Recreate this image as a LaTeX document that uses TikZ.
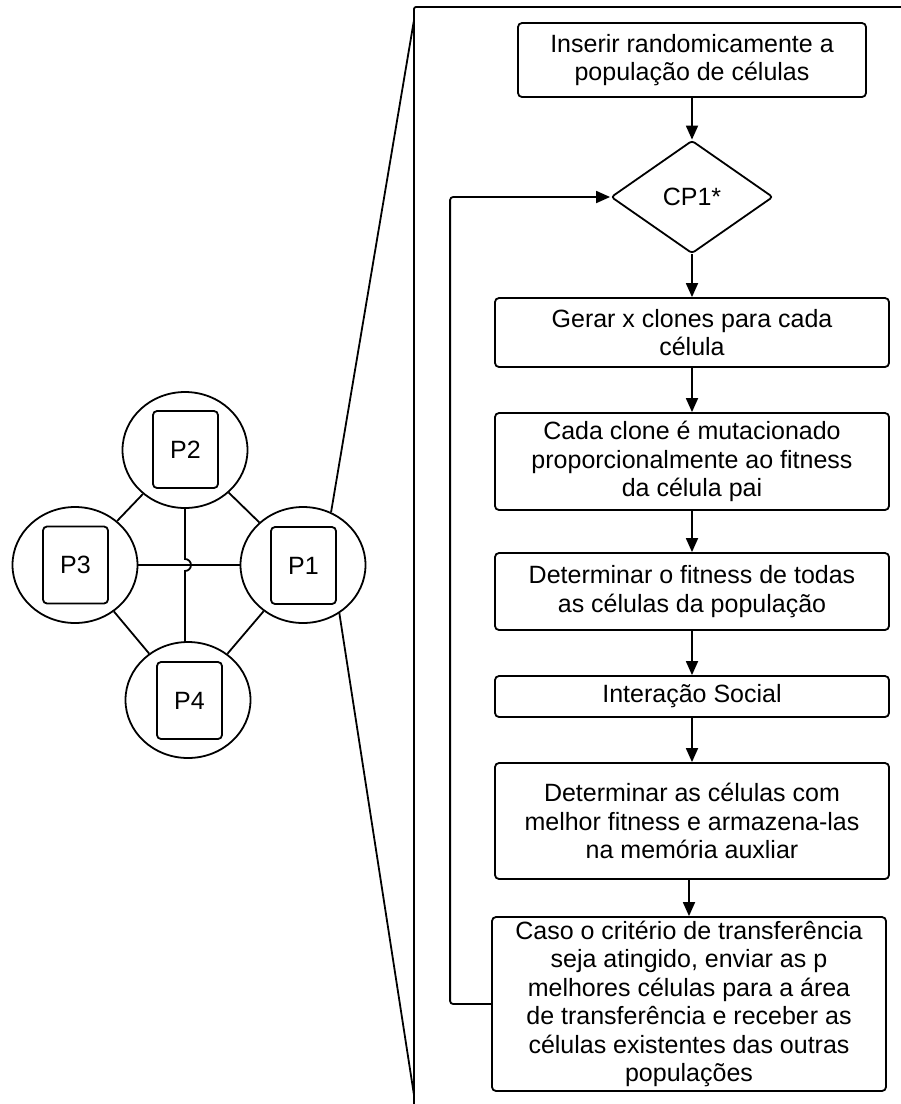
\documentclass[tikz,border=0pt]{standalone}
\usepackage{fontspec}
\setmainfont{Liberation Sans}
\usetikzlibrary{shapes.geometric,arrows.meta,calc}

\tikzset{
	pop/.style={shape=ellipse,draw,minimum width=125pt,minimum height=116pt,inner sep=0pt},
	popbox/.style={shape=rectangle,draw,rounded corners=4pt,minimum width=65pt,minimum height=77pt,inner sep=0pt},
	stepbox/.style={shape=rectangle,draw,rounded corners=4pt,align=center,minimum width=394pt,inner sep=0pt},
	decision/.style={shape=diamond,draw,rounded corners=3pt,minimum width=162pt,minimum height=113pt,aspect=1.43,inner sep=0pt},
	arr/.style={-{Triangle[length=14pt,width=12pt]}}
}

\begin{document}
\begin{tikzpicture}[x=1pt,y=-1pt,line width=1.8pt,font=\fontsize{25}{28.5}\selectfont]
	\useasboundingbox (0,0) rectangle (901,1104);

	% populations
	\node[pop] (p1) at (303,565) {};
	\node[pop] (p2) at (185,450) {};
	\node[pop] (p3) at (75,565) {};
	\node[pop] (p4) at (188,700) {};
	\node[popbox] (p1box) at (303.5,565.5) {P1};
	\node[popbox] (p2box) at (185.5,449.5) {P2};
	\node[popbox] (p3box) at (75.5,565) {P3};
	\node[popbox] (p4box) at (189.5,700.5) {P4};

	\path [-] (p2) edge (p3);
	\path [-] (p2) edge (p1);
	\path [-] (p3) edge (p4);
	\path [-] (p1) edge (p4);
	\path [-] (p3) edge (p1);
	\draw (p2.south) -- ($(p2.south |- p3.east)+(0,-6)$) arc[start angle=90,end angle=-90,radius=6pt] -- (p2.south |- p4.north);

	% zoom on P1
	\coordinate (zoomtop) at (414,20);
	\coordinate (zoombot) at (414,1095);
	\path [-] (p1.62) edge (zoomtop);
	\path [-] (p1.-53) edge (zoombot);
	\draw[rounded corners=2pt] (414,1104) -- (414,7) -- (901,7);

	% flowchart
	\node[stepbox,minimum width=348pt,minimum height=74pt] (insert) at (692,60) {Inserir randomicamente a\\população de células};
	\node[decision] (cp1) at (692,197) {CP1*};
	\node[stepbox,minimum height=69pt] (clones) at (692,332.5) {Gerar x clones para cada\\célula};
	\node[stepbox,minimum height=97pt] (mutate) at (692,461.5) {Cada clone é mutacionado\\proporcionalmente ao fitness\\da célula pai};
	\node[stepbox,minimum height=77pt] (fitness) at (692,591.5) {Determinar o fitness de todas\\as células da população};
	\node[stepbox,minimum height=41pt] (social) at (692,696.5) {Interação Social};
	\node[stepbox,minimum height=116pt] (best) at (692,821) {Determinar as células com\\melhor fitness e armazena-las\\na memória auxliar};
	\node[stepbox,minimum height=174pt] (transfer) at (689,1004) {Caso o critério de transferência\\seja atingido, enviar as p\\melhores células para a área\\de transferência e receber as\\células existentes das outras\\populações};

	\path [arr] (insert) edge (cp1);
	\path [arr] (cp1) edge (clones);
	\path [arr] (clones) edge (mutate);
	\path [arr] (mutate) edge (fitness);
	\path [arr] (fitness) edge (social);
	\path [arr] (social) edge (best);
	\path [arr] (transfer.north |- best.south) edge (transfer.north);
	\draw[arr,rounded corners=3pt] (transfer.west) -- ++(-41,0) |- (cp1.west);
\end{tikzpicture}
\end{document}
